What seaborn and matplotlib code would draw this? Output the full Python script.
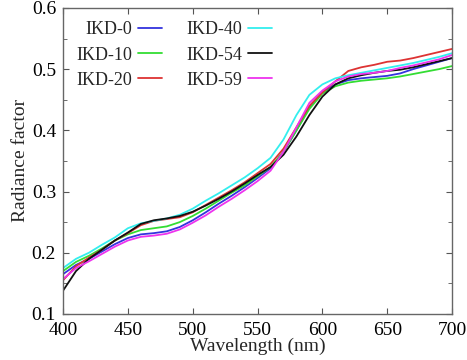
import numpy as np
import pandas as pd
import matplotlib
matplotlib.use("Agg")
import matplotlib.pyplot as plt
import seaborn as sns
from matplotlib.ticker import MultipleLocator

wavelength = list(range(400, 701, 10))

ikd_0 = [0.165, 0.180, 0.190, 0.202, 0.214, 0.224, 0.230, 0.232, 0.235, 0.242, 0.253,
         0.266, 0.280, 0.293, 0.307, 0.322, 0.338, 0.365, 0.400, 0.438, 0.462,
         0.475, 0.482, 0.485, 0.487, 0.489, 0.493, 0.500, 0.506, 0.512, 0.518]
ikd_10 = [0.170, 0.185, 0.195, 0.207, 0.220, 0.230, 0.237, 0.240, 0.243, 0.250, 0.260,
          0.272, 0.285, 0.298, 0.310, 0.325, 0.340, 0.365, 0.400, 0.435, 0.460,
          0.472, 0.478, 0.481, 0.483, 0.485, 0.488, 0.492, 0.496, 0.500, 0.505]
ikd_20 = [0.155, 0.178, 0.192, 0.205, 0.220, 0.232, 0.245, 0.252, 0.255, 0.258, 0.266,
          0.278, 0.290, 0.302, 0.315, 0.330, 0.345, 0.370, 0.405, 0.440, 0.462,
          0.480, 0.497, 0.503, 0.507, 0.512, 0.514, 0.518, 0.523, 0.528, 0.533]
ikd_40 = [0.175, 0.190, 0.200, 0.213, 0.225, 0.240, 0.248, 0.252, 0.256, 0.262, 0.272,
          0.285, 0.297, 0.310, 0.323, 0.338, 0.355, 0.385, 0.425, 0.458, 0.475,
          0.485, 0.490, 0.494, 0.498, 0.502, 0.506, 0.510, 0.515, 0.520, 0.526]
ikd_54 = [0.138, 0.170, 0.190, 0.205, 0.220, 0.233, 0.247, 0.253, 0.256, 0.260, 0.267,
          0.277, 0.288, 0.300, 0.313, 0.327, 0.340, 0.360, 0.390, 0.425, 0.455,
          0.475, 0.485, 0.490, 0.494, 0.497, 0.499, 0.503, 0.508, 0.513, 0.518]
ikd_59 = [0.157, 0.175, 0.186, 0.198, 0.210, 0.220, 0.226, 0.228, 0.231, 0.238, 0.249,
          0.261, 0.275, 0.288, 0.302, 0.317, 0.334, 0.365, 0.405, 0.445, 0.465,
          0.480, 0.488, 0.492, 0.494, 0.497, 0.502, 0.506, 0.511, 0.516, 0.523]

labels = ["IKD-0", "IKD-10", "IKD-20", "IKD-40", "IKD-54", "IKD-59"]
series = [ikd_0, ikd_10, ikd_20, ikd_40, ikd_54, ikd_59]
colors = ["#3333dd", "#33dd33", "#dd3333", "#33eeee", "#111111", "#ee33ee"]

df = pd.concat([pd.DataFrame({"Wavelength": wavelength, "Radiance": s, "Sample": lab})
                for lab, s in zip(labels, series)], ignore_index=True)

sns.set_style("ticks")
plt.rcParams["font.family"] = ["Liberation Serif", "DejaVu Serif"]

fig = plt.figure(figsize=(4.67, 3.6), dpi=100)
ax = fig.add_axes([0.135, 0.128, 0.833, 0.850])

sns.lineplot(data=df, x="Wavelength", y="Radiance", hue="Sample",
             palette=dict(zip(labels, colors)), linewidth=1.3, ax=ax, legend=True)

ax.set_xlim(400, 700)
ax.set_ylim(0.1, 0.6)
ax.xaxis.set_major_locator(MultipleLocator(50))
ax.yaxis.set_major_locator(MultipleLocator(0.1))
ax.yaxis.set_minor_locator(MultipleLocator(0.05))
ax.tick_params(direction="in", which="both", top=True, right=True,
               labelsize=14, colors="#555555", labelcolor="black")
ax.tick_params(axis="x", pad=6)
ax.tick_params(axis="y", pad=5)
ax.tick_params(which="major", length=4)
ax.tick_params(which="minor", length=3)
for sp in ax.spines.values():
    sp.set_color("#666666")
    sp.set_linewidth(1.0)
    sp.set_visible(True)

ax.set_xlabel("Wavelength (nm)", fontsize=14, labelpad=-1)
ax.set_ylabel("Radiance factor", fontsize=14, labelpad=2)

handles, labs = ax.get_legend_handles_labels()
ax.legend(handles, labs, ncol=2, loc="upper left", bbox_to_anchor=(0.0, 1.0),
          frameon=False, markerfirst=False, fontsize=13, handlelength=1.35,
          handletextpad=0.3, columnspacing=1.35, labelspacing=0.45,
          borderaxespad=0.4, borderpad=0.35)

fig.savefig("out.png", dpi=100)
